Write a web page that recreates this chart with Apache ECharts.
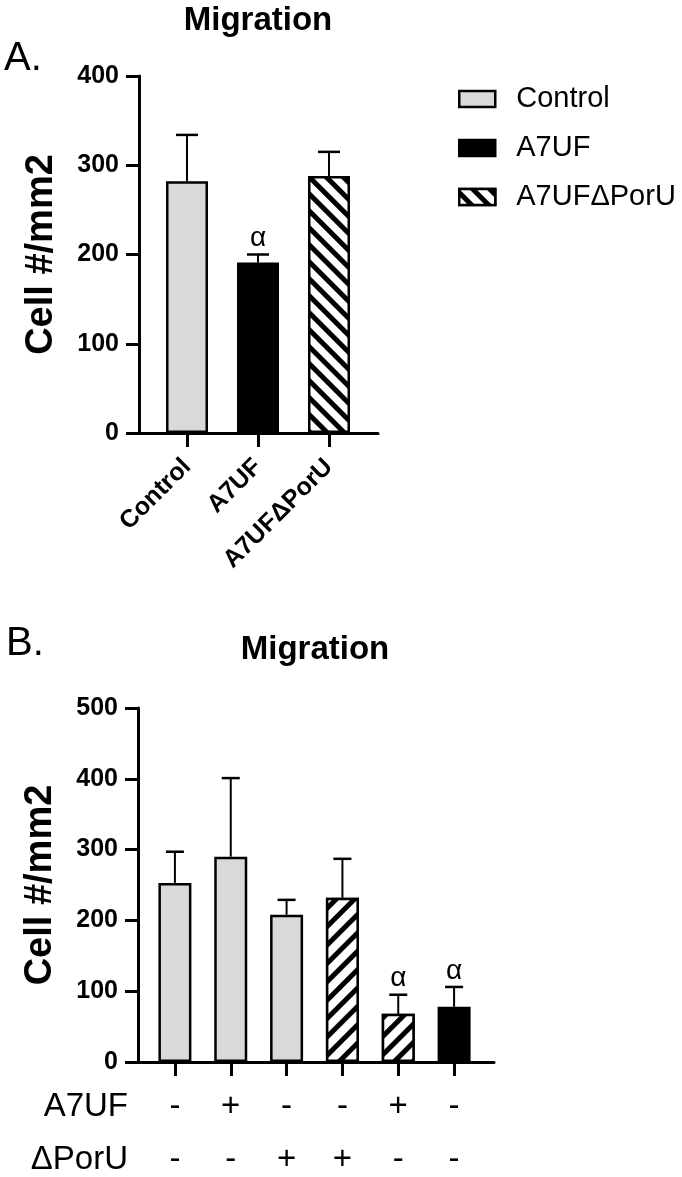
<!DOCTYPE html>
<html>
<head>
<meta charset="utf-8">
<script src="https://cdn.jsdelivr.net/npm/echarts@6/dist/echarts.min.js"></script>
<style>
  html, body { margin: 0; padding: 0; background: #fff; }
  #chart { width: 682px; height: 1177px; }
</style>
</head>
<body>
<div id="chart"></div>
<script>
// panel A data
var catsA = ['Control', 'A7UF', 'A7UFΔPorU'];
var meanA = [282, 191, 288];
var sdA = [52, 9, 27];
var sigA = ['', 'α', ''];

// panel B data
var meanB = [253, 290, 208, 232, 68, 78];
var sdB = [44, 111, 21, 55, 27, 28];
var sigB = ['', '', '', '', 'α', 'α'];
var rowA7UF = ['-', '+', '-', '-', '+', '-'];
var rowPorU = ['-', '-', '+', '+', '-', '-'];
var kindB = ['Control', 'Control', 'Control', 'A7UFΔPorU', 'A7UFΔPorU', 'A7UF'];

var FONT = '"Liberation Sans", Arial, sans-serif';
var GRAY = '#d9d9d9';

function hatch(rot, w, gap) {
  return {
    symbol: 'rect',
    symbolSize: 1,
    color: '#000',
    backgroundColor: '#fff',
    dashArrayX: [1, 0],
    dashArrayY: [w, gap],
    rotation: rot
  };
}

var styleA = {
  'Control': { color: GRAY, borderColor: '#000', borderWidth: 2.5 },
  'A7UF': { color: '#000', borderColor: '#000', borderWidth: 2.5 },
  'A7UFΔPorU': { color: '#fff', borderColor: '#000', borderWidth: 2.5, decal: hatch(Math.PI / 4, 5, 7) }
};
var styleB = {
  'Control': { color: GRAY, borderColor: '#000', borderWidth: 2.5 },
  'A7UF': { color: '#000', borderColor: '#000', borderWidth: 2.5 },
  'A7UFΔPorU': { color: '#fff', borderColor: '#000', borderWidth: 2.5, decal: hatch(-Math.PI / 4, 4.5, 8) }
};

function errRender(means, sds, sigs, capW) {
  return function (params, api) {
    var i = params.dataIndex;
    var p0 = api.coord([i, means[i]]);
    var p1 = api.coord([i, means[i] + sds[i]]);
    var kids = [
      { type: 'line', shape: { x1: p0[0], y1: p0[1], x2: p1[0], y2: p1[1] }, style: { stroke: '#000', lineWidth: 2 } },
      { type: 'line', shape: { x1: p1[0] - capW / 2, y1: p1[1], x2: p1[0] + capW / 2, y2: p1[1] }, style: { stroke: '#000', lineWidth: 2.5 } }
    ];
    if (sigs[i]) {
      kids.push({ type: 'text', x: p1[0], y: p1[1] - 16, style: { text: sigs[i], font: '28px ' + FONT, fill: '#000', align: 'center', verticalAlign: 'middle' } });
    }
    return { type: 'group', children: kids };
  };
}

function frameX(grid) {
  return {
    gridIndex: grid, type: 'value', min: 0, max: 1,
    axisLine: { show: true, lineStyle: { color: '#000', width: 3 } },
    axisTick: { show: false }, axisLabel: { show: false }, splitLine: { show: false }
  };
}
function frameY(grid, max, gap) {
  return {
    gridIndex: grid, type: 'value', min: 0, max: max, interval: 100,
    name: 'Cell #/mm2', nameLocation: 'middle', nameGap: gap, nameRotate: 90,
    nameTextStyle: { fontFamily: FONT, fontWeight: 'bold', fontSize: 38, color: '#000' },
    axisLine: { show: true, lineStyle: { color: '#000', width: 3 } },
    axisTick: { show: true, length: 13, lineStyle: { color: '#000', width: 3 } },
    axisLabel: { fontFamily: FONT, fontWeight: 'bold', fontSize: 25, color: '#000', margin: 20 },
    splitLine: { show: false }
  };
}

var seriesA = catsA.map(function (c, k) {
  return {
    name: c, type: 'bar', xAxisIndex: 1, yAxisIndex: 1,
    barWidth: 42, barGap: '-100%',
    itemStyle: styleA[c],
    data: meanA.map(function (v, i) { return i === k ? v : '-'; })
  };
});

var option = {
  animation: false,
  backgroundColor: '#fff',
  graphic: [
    { type: 'text', x: 258, y: 21, style: { text: 'Migration', font: 'bold 33px ' + FONT, fill: '#000', align: 'center', verticalAlign: 'middle' } },
    { type: 'text', x: 4, y: 59, style: { text: 'A.', font: '40px ' + FONT, fill: '#000', align: 'left', verticalAlign: 'middle' } },
    { type: 'text', x: 315, y: 650, style: { text: 'Migration', font: 'bold 33px ' + FONT, fill: '#000', align: 'center', verticalAlign: 'middle' } },
    { type: 'text', x: 6, y: 644, style: { text: 'B.', font: '40px ' + FONT, fill: '#000', align: 'left', verticalAlign: 'middle' } },
    { type: 'text', x: 128, y: 1107, style: { text: 'A7UF', font: '33px ' + FONT, fill: '#000', align: 'right', verticalAlign: 'middle' } },
    { type: 'text', x: 128, y: 1160, style: { text: 'ΔPorU', font: '33px ' + FONT, fill: '#000', align: 'right', verticalAlign: 'middle' } }
  ],
  legend: {
    data: catsA, orient: 'vertical', left: 458, top: 84, padding: 0,
    icon: 'rect', itemWidth: 36, itemHeight: 16, itemGap: 19,
    itemStyle: { borderColor: '#000', borderWidth: 2.5 },
    textStyle: { fontFamily: FONT, fontSize: 29, lineHeight: 30, color: '#000', padding: [0, 0, 0, 16] }
  },
  grid: [
    { left: 139, top: 76, width: 239, height: 357, outerBoundsMode: 'none' },
    { left: 151.5, top: 76, width: 213, height: 357, outerBoundsMode: 'none' },
    { left: 138, top: 708, width: 356, height: 354, outerBoundsMode: 'none' },
    { left: 147, top: 708, width: 335, height: 354, outerBoundsMode: 'none' }
  ],
  xAxis: [
    frameX(0),
    {
      gridIndex: 1, type: 'category', data: catsA,
      axisLine: { show: false },
      axisTick: { show: true, alignWithLabel: true, length: 14, lineStyle: { color: '#000', width: 3 } },
      axisLabel: { rotate: 45, interval: 0, fontFamily: FONT, fontWeight: 'bold', fontSize: 25, color: '#000', margin: 30 }
    },
    frameX(2),
    {
      gridIndex: 3, type: 'category', data: meanB.map(function (v, i) { return String(i); }),
      axisLine: { show: false },
      axisTick: { show: true, alignWithLabel: true, length: 14, lineStyle: { color: '#000', width: 3 } },
      axisLabel: {
        interval: 0, margin: 18, fontFamily: FONT, fontSize: 33, lineHeight: 53, color: '#000',
        formatter: function (v, i) { return rowA7UF[i] + '\n' + rowPorU[i]; }
      }
    }
  ],
  yAxis: [
    frameY(0, 400, 78),
    { gridIndex: 1, type: 'value', min: 0, max: 400, show: false },
    frameY(2, 500, 78),
    { gridIndex: 3, type: 'value', min: 0, max: 500, show: false }
  ],
  series: seriesA.concat([
    {
      type: 'custom', xAxisIndex: 1, yAxisIndex: 1, z: 3,
      renderItem: errRender(meanA, sdA, sigA, 22),
      data: meanA.map(function (v, i) { return [i, v + sdA[i]]; })
    },
    {
      name: 'B', type: 'bar', xAxisIndex: 3, yAxisIndex: 3, barWidth: 33,
      data: meanB.map(function (v, i) { return { value: v, itemStyle: styleB[kindB[i]] }; })
    },
    {
      type: 'custom', xAxisIndex: 3, yAxisIndex: 3, z: 3,
      renderItem: errRender(meanB, sdB, sigB, 18),
      data: meanB.map(function (v, i) { return [i, v + sdB[i]]; })
    }
  ])
};

var chart = echarts.init(document.getElementById('chart'), null, { renderer: 'canvas' });
chart.setOption(option);
</script>
</body>
</html>
